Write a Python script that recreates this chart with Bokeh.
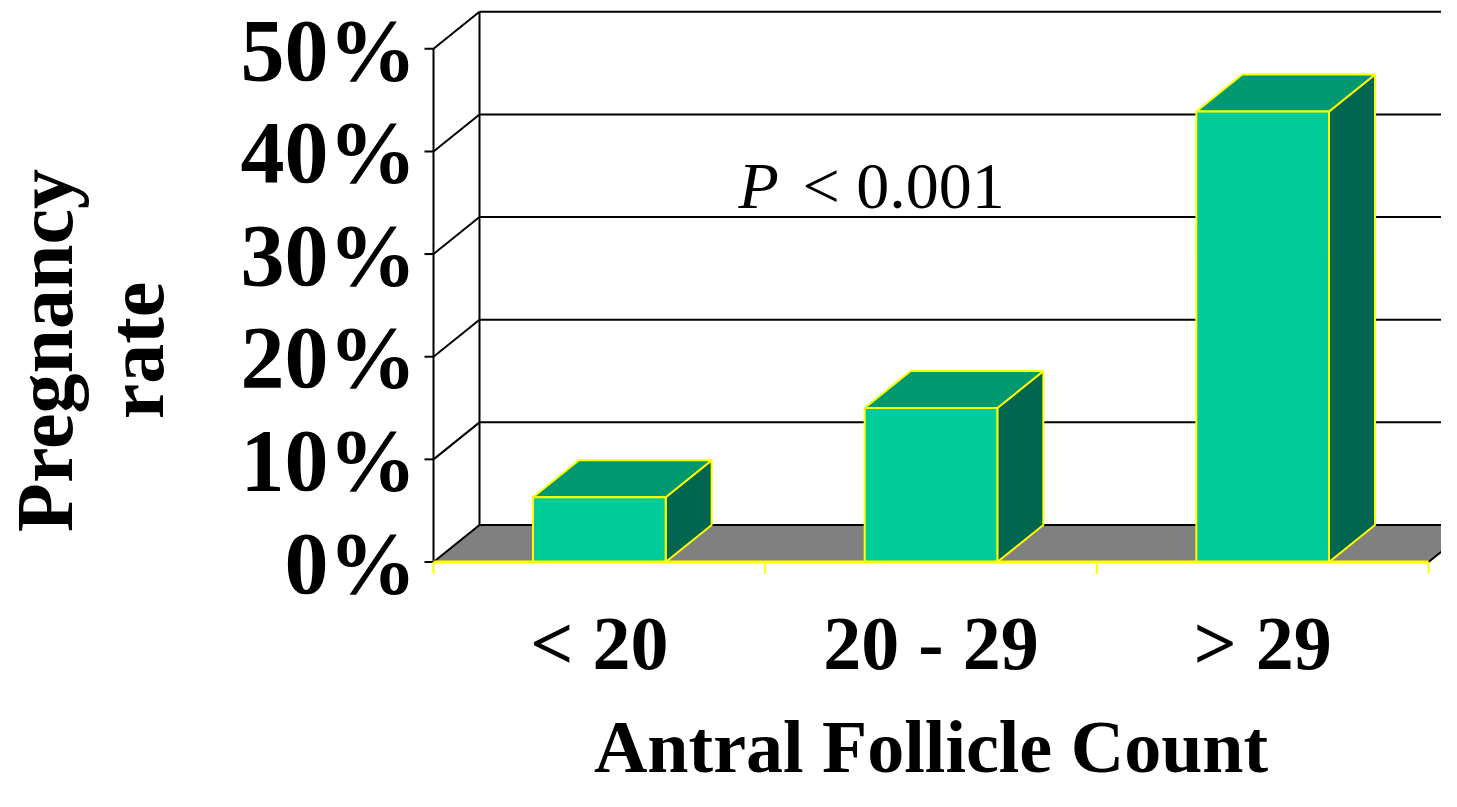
import math
from bokeh.plotting import figure
from bokeh.embed import file_html
from bokeh.resources import INLINE
from bokeh.core.properties import value

# ---------------- data ----------------
categories = ["< 20", "20 - 29", "> 29"]
pregnancy_rate = [6.3, 15.0, 43.9]          # percent
y_ticks = [0, 10, 20, 30, 40, 50]
y_tick_labels = ["0%", "10%", "20%", "30%", "40%", "50%"]
x_title = "Antral Follicle Count"
y_title_lines = ["Pregnancy", "rate"]
annotation_italic = "P"
annotation_rest = "< 0.001"

# ---------------- layout constants ----------------
W, H = 1441, 791
PX_X = 331.67        # pixels per category
PX_Y = 10.264        # pixels per percent
X0 = 433             # px of first category's left edge
Y0 = 561.5           # px (from top) of 0 %
BASE_FIX = 0.35      # renderer baseline correction (em)

def px_x(n):
    return n / PX_X

def px_y(n):
    return n / PX_Y

DX = px_x(46)        # 3-D depth offset
DY = px_y(37)
BAR_W = 0.4
N = len(categories)
YMAX = y_ticks[-1]

FONT = value("Liberation Serif")
FRONT, TOP, SIDE = "#00CC99", "#00996F", "#00664F"
YELLOW = "#FFFF00"

p = figure(width=W, height=H, output_backend="svg", toolbar_location=None,
           x_range=(-X0 / PX_X, (W - X0) / PX_X),
           y_range=(-(H - Y0) / PX_Y, Y0 / PX_Y),
           x_axis_location=None, y_axis_location=None, min_border=0,
           background_fill_color="white", border_fill_color="white")
p.grid.visible = False
p.outline_line_color = None

# floor
p.patch([0, N, N + DX, DX], [0, 0, DY, DY], fill_color="#808080", line_color=None)

# back-wall gridlines
p.multi_line([[DX, N + DX + 1] for t in y_ticks], [[t + DY, t + DY] for t in y_ticks],
             line_color="black", line_width=2)
# side-wall diagonals
p.multi_line([[0, DX] for t in y_ticks], [[t, t + DY] for t in y_ticks],
             line_color="black", line_width=2)
# back-wall left edge
p.line([DX, DX], [DY, YMAX + DY], line_color="black", line_width=2)
# floor right edge
p.line([N, N + DX], [0, DY], line_color="black", line_width=2)
# front value axis and ticks
p.line([0, 0], [0, YMAX], line_color="black", line_width=2)
p.multi_line([[-px_x(9), 0] for t in y_ticks], [[t, t] for t in y_ticks],
             line_color="black", line_width=2)

# bars
fx, tx, sx = [], [], []
fy, ty, sy = [], [], []
for i, v in enumerate(pregnancy_rate):
    l = i + 0.5 - BAR_W / 2
    r = i + 0.5 + BAR_W / 2
    fx.append([l, r, r, l]); fy.append([0, 0, v, v])
    tx.append([l, r, r + DX, l + DX]); ty.append([v, v, v + DY, v + DY])
    sx.append([r, r + DX, r + DX, r]); sy.append([0, DY, v + DY, v])
p.patches(sx, sy, fill_color=SIDE, line_color=YELLOW, line_width=2)
p.patches(tx, ty, fill_color=TOP, line_color=YELLOW, line_width=2)
p.patches(fx, fy, fill_color=FRONT, line_color=YELLOW, line_width=2)

# category axis (yellow) and ticks
p.line([0, N], [0, 0], line_color=YELLOW, line_width=3)
p.multi_line([[k, k] for k in range(N + 1)], [[0, -px_y(12)] for k in range(N + 1)],
             line_color=YELLOW, line_width=2)

def fix(fs):
    return BASE_FIX * fs

# y tick labels
fs = 88
p.text(x=[-px_x(17)] * len(y_ticks), y=[t - px_y(32) + px_y(fix(fs)) for t in y_ticks],
       text=y_tick_labels,
       text_font=FONT, text_font_style="bold", text_font_size=f"{fs}px",
       text_align="right", text_baseline="alphabetic", text_color="black")

# category labels
fs = 76
p.text(x=[i + 0.5 for i in range(N)], y=[-px_y(669 - Y0) + px_y(fix(fs))] * N, text=categories,
       text_font=FONT, text_font_style="bold", text_font_size=f"{fs}px",
       text_align="center", text_baseline="alphabetic", text_color="black")

# x title
fs = 74
p.text(x=[N / 2], y=[-px_y(772 - Y0) + px_y(fix(fs))], text=[x_title],
       text_font=FONT, text_font_style="bold", text_font_size=f"{fs}px",
       text_align="center", text_baseline="alphabetic", text_color="black")

# y title (rotated, two lines)
fs = 80
p.text(x=[-px_x(X0 - 72) - px_x(fix(fs)), -px_x(X0 - 163) - px_x(fix(fs))],
       y=[px_y(Y0 - 350)] * 2, text=y_title_lines,
       angle=math.pi / 2, text_font=FONT, text_font_style="bold", text_font_size=f"{fs}px",
       text_align="center", text_baseline="alphabetic", text_color="black")

# annotation
fs = 66
p.text(x=[px_x(738 - X0)], y=[px_y(Y0 - 208) + px_y(fix(fs))], text=[annotation_italic],
       text_font=FONT, text_font_style="italic", text_font_size=f"{fs}px",
       text_align="left", text_baseline="alphabetic", text_color="black")
p.text(x=[px_x(802 - X0)], y=[px_y(Y0 - 208) + px_y(fix(fs))], text=[annotation_rest],
       text_font=FONT, text_font_style="normal", text_font_size=f"{fs}px",
       text_align="left", text_baseline="alphabetic", text_color="black")

open("out.html", "w").write(file_html(p, INLINE))
